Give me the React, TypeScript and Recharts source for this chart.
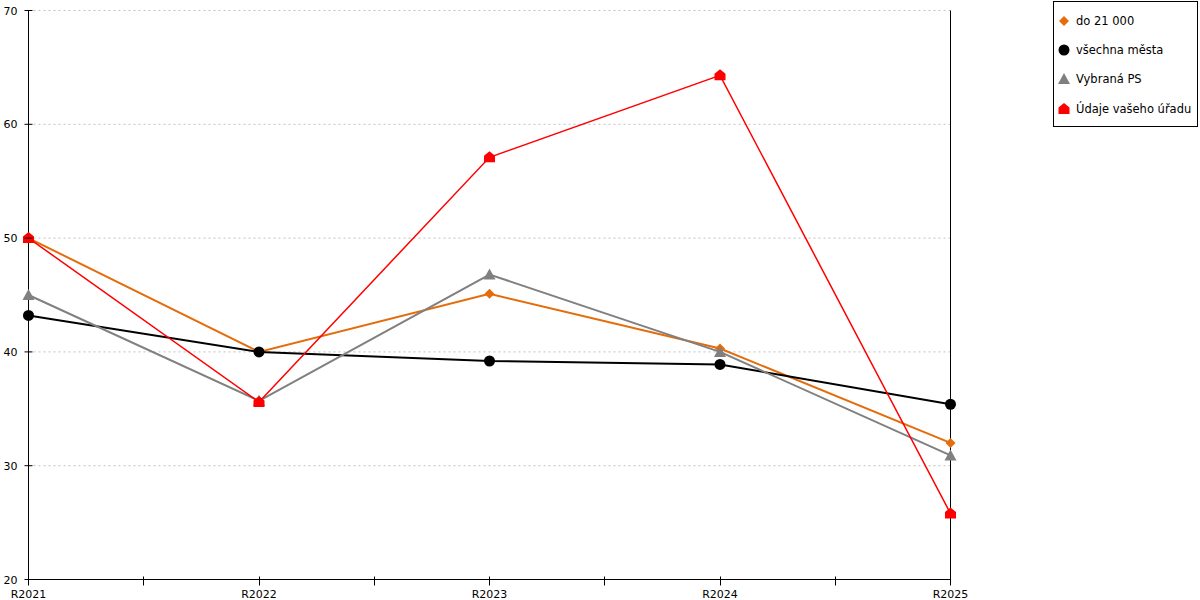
import React from 'react';
import { LineChart, Line, XAxis, YAxis, CartesianGrid, Legend } from 'recharts';

const categories = ['R2021', 'R2022', 'R2023', 'R2024', 'R2025'];
const do21000 = [50.0, 40.0, 45.1, 40.3, 32.0];
const vsechnaMesta = [43.2, 40.0, 39.2, 38.9, 35.4];
const vybranaPS = [45.0, 35.7, 46.8, 40.0, 30.9];
const udajeUradu = [50.0, 35.6, 57.1, 64.3, 25.8];
const yTicks = [20, 30, 40, 50, 60, 70];
const seriesNames = ['do 21 000', 'všechna města', 'Vybraná PS', 'Údaje vašeho úřadu'];
const seriesColors = ['#e46c0a', '#000000', '#808080', '#ff0000'];
const seriesShapes = ['diamond', 'circle', 'triangle', 'house'];

const data = categories.map((c, i) => ({
  x: i,
  name: c,
  s0: do21000[i],
  s1: vsechnaMesta[i],
  s2: vybranaPS[i],
  s3: udajeUradu[i],
}));

const xTicks: number[] = categories.flatMap((_, i) => (i < categories.length - 1 ? [i, i + 0.5] : [i]));

const FONT = '"DejaVu Sans", Verdana, sans-serif';

function Marker({ shape, cx, cy, color }: { shape: string; cx: number; cy: number; color: string }) {
  if (shape === 'diamond') {
    return <polygon points={`${cx},${cy - 5} ${cx + 5},${cy} ${cx},${cy + 5} ${cx - 5},${cy}`} fill={color} />;
  }
  if (shape === 'circle') {
    return <circle cx={cx} cy={cy} r={5.5} fill={color} />;
  }
  if (shape === 'triangle') {
    return <polygon points={`${cx},${cy - 6} ${cx + 6},${cy + 5} ${cx - 6},${cy + 5}`} fill={color} />;
  }
  return (
    <polygon
      points={`${cx},${cy - 6} ${cx + 5.5},${cy - 1.5} ${cx + 5.5},${cy + 5} ${cx - 5.5},${cy + 5} ${cx - 5.5},${cy - 1.5}`}
      fill={color}
    />
  );
}

const makeDot = (idx: number) => (props: any) => {
  const { cx, cy, index } = props;
  if (cx == null || cy == null) return <g key={`d${idx}-${index}`} />;
  return (
    <g key={`d${idx}-${index}`}>
      <Marker shape={seriesShapes[idx]} cx={cx} cy={cy} color={seriesColors[idx]} />
    </g>
  );
};

const XTick = (props: any) => {
  const { x, y, payload } = props;
  const v = payload.value as number;
  const isMajor = Number.isInteger(v);
  const px = Math.round(x - 0.5) + 0.5;
  return (
    <g>
      <line x1={px} x2={px} y1={y - 3} y2={y + 6} stroke="#000" strokeWidth={1} />
      {isMajor && (
        <text x={x} y={y + 18} textAnchor="middle" fontSize={11} fontFamily={FONT} fill="#000">
          {categories[v]}
        </text>
      )}
    </g>
  );
};

const YTick = (props: any) => {
  const { x, y, payload } = props;
  return (
    <g>
      <line x1={x - 4} x2={x + 4} y1={y} y2={y} stroke="#000" strokeWidth={1} />
      <text x={x - 11} y={y + 4} textAnchor="end" fontSize={11} fontFamily={FONT} fill="#000">
        {payload.value}
      </text>
    </g>
  );
};

const LegendBox = () => (
  <div
    style={{
      border: '1px solid #000',
      background: '#fff',
      boxSizing: 'border-box',
      width: 145,
      height: 126,
      paddingTop: 4,
      fontFamily: FONT,
      fontSize: 11.5,
    }}
  >
    {seriesNames.map((n, i) => (
      <div key={n} style={{ display: 'flex', alignItems: 'center', height: 29.3, paddingLeft: 3 }}>
        <svg width={14} height={14} style={{ marginRight: 5 }}>
          <Marker shape={seriesShapes[i]} cx={7} cy={7} color={seriesColors[i]} />
        </svg>
        <span style={{ color: '#000', whiteSpace: 'nowrap' }}>{n}</span>
      </div>
    ))}
  </div>
);

export default function App() {
  const keys = ['s0', 's1', 's2', 's3'];
  const widths = [2, 2, 2, 1.5];
  return (
    <div style={{ position: 'absolute', left: 0, top: 0, width: 1200, height: 600, background: '#fff' }}>
      <LineChart width={1200} height={600} data={data} margin={{ top: 10.5, right: 248.5, bottom: 0, left: 0.5 }}>
        <CartesianGrid vertical={false} stroke="#c0c0c0" strokeDasharray="2 3" yAxisId="left" />
        <XAxis
          dataKey="x"
          type="number"
          domain={[0, categories.length - 1]}
          ticks={xTicks}
          interval={0}
          height={20.5}
          tickSize={0}
          tickMargin={0}
          tickLine={false}
          axisLine={{ stroke: '#000', strokeWidth: 1 }}
          tick={<XTick />}
        />
        <YAxis
          yAxisId="left"
          domain={[20, 70]}
          ticks={yTicks}
          interval={0}
          width={28}
          tickSize={0}
          tickMargin={0}
          tickLine={false}
          axisLine={{ stroke: '#000', strokeWidth: 1 }}
          tick={<YTick />}
        />
        <YAxis
          yAxisId="right"
          orientation="right"
          domain={[20, 70]}
          ticks={yTicks}
          width={1}
          tick={false}
          tickLine={false}
          axisLine={{ stroke: '#000', strokeWidth: 1 }}
        />
        <Legend
          layout="vertical"
          align="center"
          verticalAlign="middle"
          wrapperStyle={{ left: 1053, top: 1, width: 145, height: 126 }}
          content={<LegendBox />}
        />
        {keys.map((k, i) => (
          <Line
            key={k}
            yAxisId="left"
            dataKey={k}
            name={seriesNames[i]}
            stroke={seriesColors[i]}
            strokeWidth={widths[i]}
            dot={makeDot(i)}
            activeDot={false}
            isAnimationActive={false}
          />
        ))}
      </LineChart>
    </div>
  );
}
